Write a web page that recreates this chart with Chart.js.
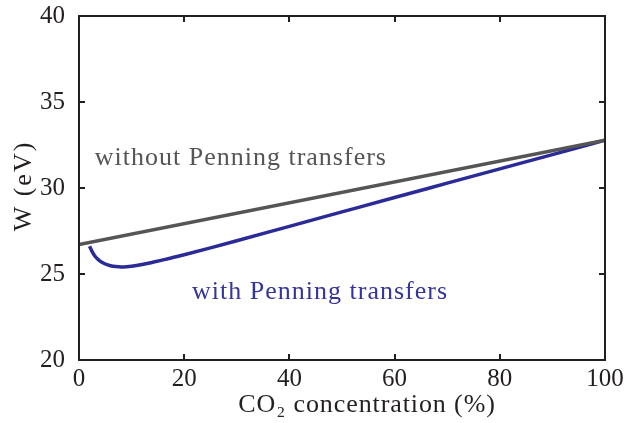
<!DOCTYPE html>
<html>
<head>
<meta charset="utf-8">
<script src="https://cdn.jsdelivr.net/npm/chart.js@4/dist/chart.umd.min.js"></script>
<style>
  html, body { margin: 0; padding: 0; background: #fff; }
  #wrap { width: 626px; height: 423px; position: relative; }
</style>
</head>
<body>
<div id="wrap"><canvas id="c" width="626" height="423"></canvas></div>
<script>
// CO2 concentration (%) and mean energy per ion pair W (eV)
const noPenningX = [0, 100];
const noPenningW = [26.72, 32.78];

const penningX = [2, 2.5, 3, 4, 5, 6, 7, 8, 9, 10, 12, 14, 16, 18, 20, 25, 30, 40, 50, 60, 70, 80, 90, 100];
const penningW = [26.62, 26.3, 26.05, 25.75, 25.58, 25.48, 25.43, 25.41, 25.42, 25.45, 25.55, 25.68, 25.82, 25.97, 26.12, 26.52, 26.93, 27.77, 28.61, 29.45, 30.28, 31.11, 31.94, 32.78];

const xTicks = [0, 20, 40, 60, 80, 100];
const yTicks = [20, 25, 30, 35, 40];

const xTitle = 'CO₂ concentration (%)';
const yTitle = 'W (eV)';

// curve labels: text, anchor (x %, W eV), colour
const labelTexts = ['without Penning transfers', 'with Penning transfers'];
const labelX = [3.0, 21.5];
const labelY = [31.74, 23.95];
const labelColors = ['#555555', '#34349c'];

const FONT = '"Liberation Serif", "DejaVu Serif", serif';
const INK = '#231f20';

const toPoints = (xs, ys) => xs.map((x, i) => ({ x: x, y: ys[i] }));

// frame, inward ticks, axis titles and curve labels
const framePlugin = {
  id: 'frame',
  afterDraw(chart) {
    const ctx = chart.ctx;
    const a = chart.chartArea;
    const xs = chart.scales.x, ys = chart.scales.y;
    const len = 6;
    ctx.save();
    ctx.strokeStyle = INK;
    ctx.lineWidth = 2;
    ctx.strokeRect(a.left, a.top, a.right - a.left, a.bottom - a.top);
    ctx.beginPath();
    xTicks.forEach(v => {
      const px = Math.round(xs.getPixelForValue(v));
      ctx.moveTo(px, a.bottom); ctx.lineTo(px, a.bottom - len);
      ctx.moveTo(px, a.top); ctx.lineTo(px, a.top + len);
    });
    yTicks.forEach(v => {
      const py = Math.round(ys.getPixelForValue(v));
      ctx.moveTo(a.left, py); ctx.lineTo(a.left + len, py);
      ctx.moveTo(a.right, py); ctx.lineTo(a.right - len, py);
    });
    ctx.stroke();

    // curve labels
    ctx.font = '26px ' + FONT;
    ctx.letterSpacing = '1px';
    ctx.textBaseline = 'middle';
    ctx.textAlign = 'left';
    labelTexts.forEach((t, i) => {
      ctx.fillStyle = labelColors[i];
      ctx.fillText(t, xs.getPixelForValue(labelX[i]), ys.getPixelForValue(labelY[i]));
    });

    // axis titles
    ctx.fillStyle = INK;
    ctx.letterSpacing = '0.9px';
    ctx.textAlign = 'center';
    ctx.fillText(xTitle, 367, 405);
    ctx.letterSpacing = '2px';
    ctx.translate(24, 186);
    ctx.rotate(-Math.PI / 2);
    ctx.fillText(yTitle, 0, 0);
    ctx.restore();
  }
};

new Chart(document.getElementById('c'), {
  type: 'scatter',
  data: {
    datasets: [
      {
        label: labelTexts[0],
        data: toPoints(noPenningX, noPenningW),
        showLine: true,
        borderColor: '#555555',
        borderWidth: 3.5,
        pointRadius: 0,
        tension: 0
      },
      {
        label: labelTexts[1],
        data: toPoints(penningX, penningW),
        showLine: true,
        borderColor: '#2b2b98',
        borderWidth: 3.5,
        pointRadius: 0,
        cubicInterpolationMode: 'monotone'
      }
    ]
  },
  options: {
    responsive: false,
    animation: false,
    events: [],
    layout: { padding: { top: 16, right: 21, left: 0, bottom: 0 } },
    plugins: {
      legend: { display: false },
      tooltip: { enabled: false }
    },
    scales: {
      x: {
        type: 'linear',
        min: 0, max: 100,
        afterBuildTicks: s => { s.ticks = xTicks.map(v => ({ value: v })); },
        afterFit: s => { s.height = 63; s.paddingLeft = 0; s.paddingRight = 0; },
        grid: { display: false },
        border: { display: false },
        ticks: {
          color: INK,
          font: { family: FONT, size: 25 },
          padding: -4
        }
      },
      y: {
        type: 'linear',
        min: 20, max: 40,
        afterBuildTicks: s => { s.ticks = yTicks.map(v => ({ value: v })); },
        afterFit: s => { s.width = 79; s.paddingTop = 0; s.paddingBottom = 0; },
        grid: { display: false },
        border: { display: false },
        ticks: {
          color: INK,
          font: { family: FONT, size: 25 },
          padding: 6
        }
      }
    }
  },
  plugins: [framePlugin]
});
</script>
</body>
</html>
